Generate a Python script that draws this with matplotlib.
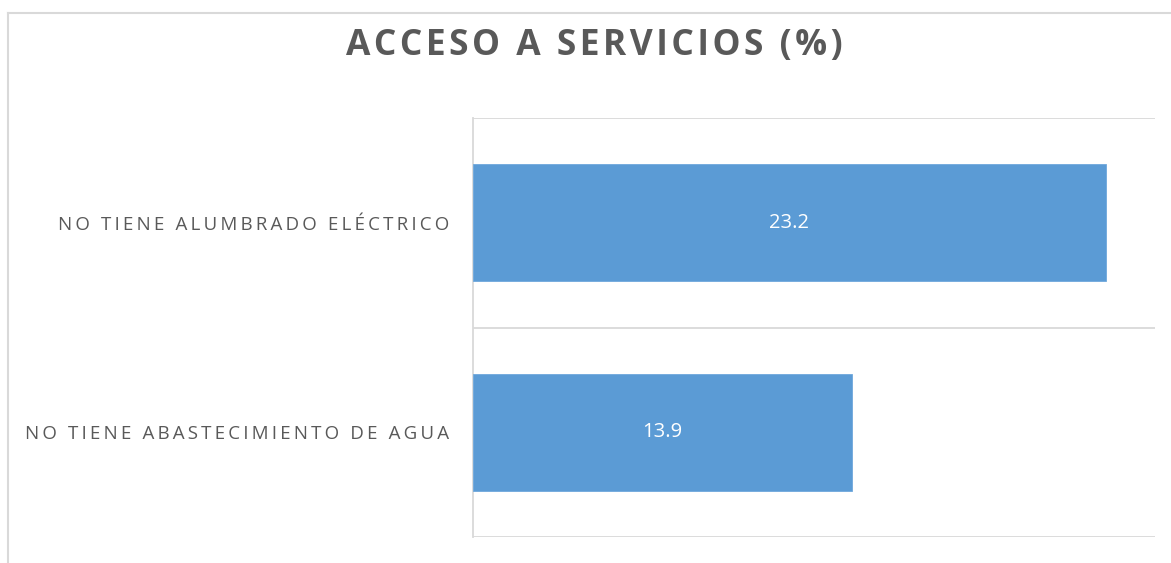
from matplotlib import pyplot as plt
from matplotlib.lines import Line2D
import numpy as np

# data
categories = ["NO TIENE ABASTECIMIENTO DE AGUA", "NO TIENE ALUMBRADO ELÉCTRICO"]
values = [13.9, 23.2]
title = "ACCESO A SERVICIOS (%)"

W, H = 1171, 563
fig = plt.figure(figsize=(W / 100, H / 100), dpi=100)
fig.patch.set_facecolor('white')

# outer chart frame (cropped on right/bottom)
grey = '#D9D9D9'
fig.add_artist(Line2D([8 / W, 1.0], [1 - 13 / H, 1 - 13 / H], transform=fig.transFigure, color=grey, lw=1.5))
fig.add_artist(Line2D([8 / W, 8 / W], [0.0, 1 - 13 / H], transform=fig.transFigure, color=grey, lw=1.5))

ax = fig.add_axes([473 / W, 1 - 537 / H, (1155 - 473) / W, (537 - 118) / H])
y = np.arange(len(categories))
bars = ax.barh(y, values, height=0.56, color='#5B9BD5', edgecolor='#6FA8DC', linewidth=0.6, zorder=3)

ax.set_xlim(0, 25)
ax.set_ylim(-0.5, len(categories) - 0.5)
ax.set_xticks([])
ax.set_yticks(y)
spaced = ['\u2009'.join(list(c)) for c in categories]
ax.set_yticklabels(spaced, family=['Open Sans', 'DejaVu Sans'], fontsize=13.5, color='#595959')
ax.tick_params(axis='y', length=0, pad=17)

# category separator gridlines
for b in np.arange(-0.5, len(categories), 1.0):
    ax.axhline(b, color=grey, lw=1.3, zorder=1)

for s in ['top', 'right', 'bottom']:
    ax.spines[s].set_visible(False)
ax.spines['left'].set_color(grey)
ax.spines['left'].set_linewidth(1.3)

for rect, v in zip(bars, values):
    ax.text(rect.get_width() / 2, rect.get_y() + rect.get_height() / 2, "%.1f" % v,
            ha='center', va='center', color='white', fontsize=14.5, family='Open Sans', zorder=4)

fig.text(594 / W, 1 - 46 / H, '\u200a'.join(list(title)), ha='center', va='center',
         family=['Open Sans', 'DejaVu Sans'], fontweight='bold', fontsize=25.5, color='#595959')

fig.savefig('out.png', dpi=100)
